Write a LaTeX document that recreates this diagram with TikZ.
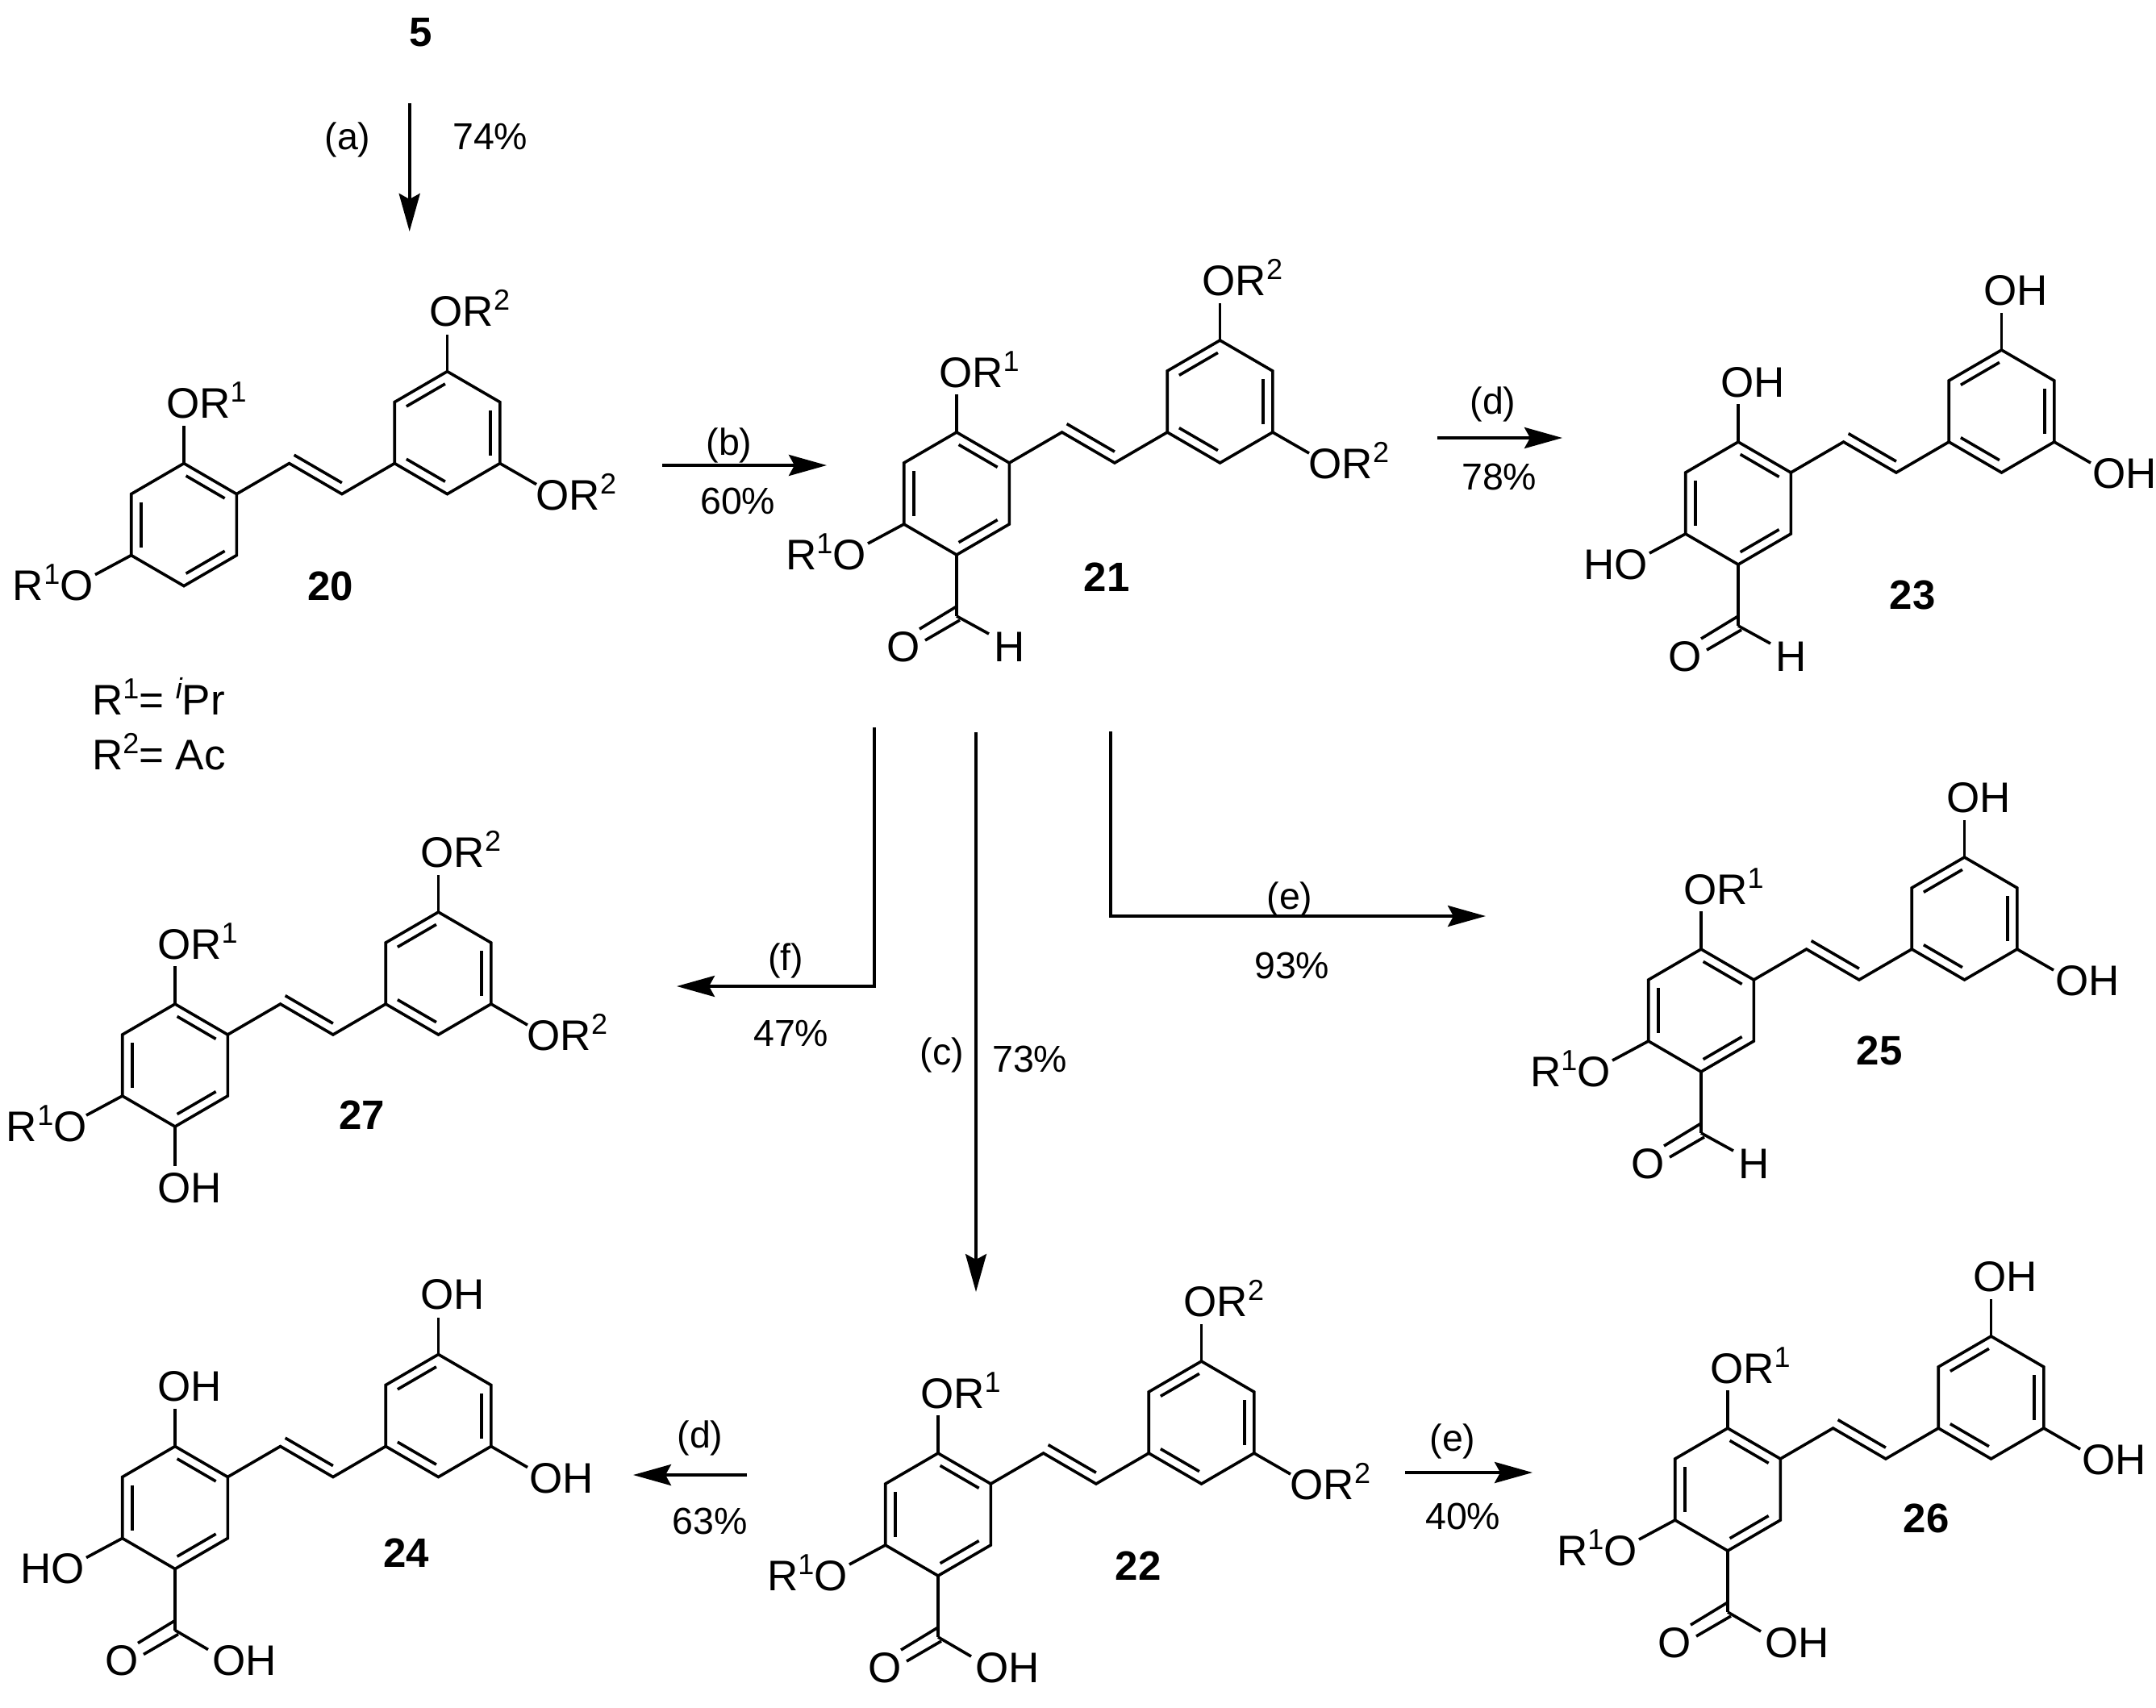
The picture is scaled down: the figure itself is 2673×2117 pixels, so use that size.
\documentclass[tikz,border=0pt]{standalone}
\usepackage{fontspec}
\setmainfont{Liberation Sans}
\usetikzlibrary{arrows.meta,calc}
\newcommand\sR[1]{\raisebox{20pt}{\fontsize{36}{36}\selectfont #1}}
\newcommand\ORa{OR\sR{1}}
\newcommand\ORb{OR\sR{2}}
\newcommand\Roa{R\sR{1}O}
\newcommand\innerb[4]{\draw[bond] ($(#1)!#3!(#2)!12pt!90:(#2)$) -- ($(#2)!#4!(#1)!12pt!-90:(#1)$);}
\newcommand\stil[1]{%
  \coordinate (#1a1) at (0,0); \coordinate (#1a2) at (65.3,38);
  \coordinate (#1a3) at (65.3,114); \coordinate (#1a4) at (0,152);
  \coordinate (#1a5) at (-65.3,114); \coordinate (#1a6) at (-65.3,38);
  \coordinate (#1v1) at (130.6,0); \coordinate (#1v2) at (195.9,38);
  \coordinate (#1b1) at (261.2,0); \coordinate (#1b2) at (326.5,38);
  \coordinate (#1b3) at (391.8,0); \coordinate (#1b4) at (391.8,-76);
  \coordinate (#1b5) at (326.5,-114); \coordinate (#1b6) at (261.2,-76);
  \draw[bond] (#1a1)--(#1a2)--(#1a3)--(#1a4)--(#1a5)--(#1a6)--cycle;
  \draw[bond] (#1b1)--(#1b2)--(#1b3)--(#1b4)--(#1b5)--(#1b6)--cycle;
  \draw[bond] (#1a2)--(#1v1)--(#1v2)--(#1b1);
  \innerb{#1a2}{#1a1}{10pt}{10pt}
  \innerb{#1a6}{#1a5}{10pt}{10pt}
  \innerb{#1a4}{#1a3}{10pt}{10pt}
  \innerb{#1b5}{#1b6}{10pt}{10pt}
  \innerb{#1b1}{#1b2}{10pt}{10pt}
  \innerb{#1b3}{#1b4}{10pt}{10pt}
  \innerb{#1v1}{#1v2}{0pt}{7pt}
}
\newcommand\subTop[3]{% prefix, label A top, label B top
  \coordinate (#1ta) at (0,-47); \coordinate (#1tb) at (326.5,-160);
  \draw[bond] (#1a1)--(#1ta); \draw[bond] (#1b5)--(#1tb);
  \node[chem] (#1la) at (-22,-56) {#2};
  \node[chem] (#1lb) at (304.5,-170) {#3};
}
\newcommand\subR[3]{\coordinate (#1tr) at (437,26); \draw[bond] (#1b3)--(#1tr);
  \node[chem] (#1lr) at (#3,57.5) {#2};}
\newcommand\subL[3]{\coordinate (#1tl) at (-110,138); \draw[bond] (#1a5)--(#1tl);
  \node[chem] (#1ll) at (#3,170) {#2};}
\newcommand\subCO[1]{%
  \coordinate (#1c) at (0,228);
  \coordinate (#1ca1) at (0,216); \coordinate (#1ca2) at (-46,244);
  \coordinate (#1cb1) at (4,233); \coordinate (#1cb2) at (-39,258);
  \draw[bond] (#1a4)--(#1c);
  \draw[bond] (#1ca1)--(#1ca2); \draw[bond] (#1cb1)--(#1cb2);
  \node[chem] (#1lo) at (-87,284) {O};
}
\newcommand\subCHO[1]{\subCO{#1}\coordinate (#1ch) at (40,250);
  \draw[bond] (#1c)--(#1ch); \node[chem] (#1lh) at (46,284) {H};}
\newcommand\subCOOH[1]{\subCO{#1}\coordinate (#1ch) at (41,252);
  \draw[bond] (#1c)--(#1ch); \node[chem] (#1lh) at (46.5,284) {OH};}
\tikzset{
  bond/.style={line width=3.6pt,line join=miter,line cap=butt},
  chem/.style={anchor=base west,inner sep=0pt,outer sep=0pt,font=\fontsize{53}{53}\selectfont},
  cpd/.style={anchor=base,inner sep=0pt,font=\fontsize{51}{51}\selectfont\bfseries},
  rlab/.style={anchor=base,inner sep=0pt,font=\fontsize{46.5}{46.5}\selectfont},
  rarr/.style={line width=4pt,-{Stealth[length=47pt,width=26pt,inset=7pt]}},
}
\begin{document}
\begin{tikzpicture}[x=1pt,y=-1pt]
\useasboundingbox (0,0) rectangle (2673,2117);
% 20
\begin{scope}[shift={(228,574.6)}]
  \stil{A}\subTop{A}{\ORa}{\ORb}\subR{A}{\ORb}{436.5}\subL{A}{\Roa}{-212}
\end{scope}
% 21
\begin{scope}[shift={(1186,536)}]
  \stil{B}\subTop{B}{\ORa}{\ORb}\subR{B}{\ORb}{436.5}\subL{B}{\Roa}{-212}\subCHO{B}
\end{scope}
% 23
\begin{scope}[shift={(2155,548)}]
  \stil{C}\subTop{C}{OH}{OH}\subR{C}{OH}{439.5}\subL{C}{HO}{-192}\subCHO{C}
\end{scope}
% 27
\begin{scope}[shift={(217,1245)}]
  \stil{D}\subTop{D}{\ORa}{\ORb}\subR{D}{\ORb}{436.5}\subL{D}{\Roa}{-209}
  \coordinate (Dto) at (0,201); \draw[bond] (Da4)--(Dto);
  \node[chem] (Dlo) at (-22,246) {OH};
\end{scope}
% 25
\begin{scope}[shift={(2109,1177)}]
  \stil{E}\subTop{E}{\ORa}{OH}\subR{E}{OH}{439.5}\subL{E}{\Roa}{-212}\subCHO{E}
\end{scope}
% 24
\begin{scope}[shift={(217,1793.5)}]
  \stil{F}\subTop{F}{OH}{OH}\subR{F}{OH}{439.5}\subL{F}{HO}{-192}\subCOOH{F}
\end{scope}
% 22
\begin{scope}[shift={(1163,1802)}]
  \stil{G}\subTop{G}{\ORa}{\ORb}\subR{G}{\ORb}{436.5}\subL{G}{\Roa}{-212}\subCOOH{G}
\end{scope}
% 26
\begin{scope}[shift={(2142,1771)}]
  \stil{H}\subTop{H}{\ORa}{OH}\subR{H}{OH}{439.5}\subL{H}{\Roa}{-212}\subCOOH{H}
\end{scope}
% compound numbers
\node[cpd] (n5) at (522,58) {5};
\node[cpd] (n20) at (410,744) {20};
\node[cpd] (n21) at (1372,733) {21};
\node[cpd] (n23) at (2371,755) {23};
\node[cpd] (n27) at (449,1400) {27};
\node[cpd] (n25) at (2330,1320) {25};
\node[cpd] (n24) at (504,1943) {24};
\node[cpd] (n22) at (1411,1959) {22};
\node[cpd] (n26) at (2388,1900) {26};
% R definitions
\node[chem] (defa) at (114,886) {R\sR{1}= \sR{\itshape i}Pr};
\node[chem] (defb) at (114,954) {R\sR{2}= Ac};
% arrow end points
\coordinate (as) at (507.7,128); \coordinate (ae) at (507.7,287);
\coordinate (bs) at (821,577); \coordinate (be) at (1025,577);
\coordinate (ds) at (1782,543); \coordinate (de) at (1937,543);
\coordinate (fs) at (1084,902); \coordinate (fc) at (1084,1223); \coordinate (fe) at (839,1223);
\coordinate (cs) at (1210,908); \coordinate (ce) at (1210,1602);
\coordinate (es) at (1377,907); \coordinate (ec) at (1377,1136); \coordinate (ee) at (1842,1136);
\coordinate (gs) at (926,1829); \coordinate (ge) at (785,1829);
\coordinate (hs) at (1742,1826); \coordinate (he) at (1900,1826);
% arrows
\draw[rarr] (as)--(ae);
\draw[rarr] (bs)--(be);
\draw[rarr] (ds)--(de);
\draw[rarr,line join=miter] (fs)--(fc)--(fe);
\draw[rarr,line width=3.4pt] (cs)--(ce);
\draw[rarr,line join=miter] (es)--(ec)--(ee);
\draw[rarr] (gs)--(ge);
\draw[rarr] (hs)--(he);
% arrow labels
\node[rlab] (la) at (431,185) {(a)};
\node[rlab,anchor=base west] (ya) at (561,185) {74\%};
\node[rlab] (lb) at (904,564) {(b)};
\node[rlab,anchor=base west] (yb) at (868,637) {60\%};
\node[rlab] (ld) at (1851,513) {(d)};
\node[rlab,anchor=base west] (yd) at (1812,607) {78\%};
\node[rlab] (lf) at (974,1203) {(f)};
\node[rlab,anchor=base west] (yf) at (934,1297) {47\%};
\node[rlab] (lc) at (1168,1320) {(c)};
\node[rlab,anchor=base west] (yc) at (1230,1329) {73\%};
\node[rlab] (le) at (1599,1127) {(e)};
\node[rlab,anchor=base west] (ye) at (1555,1213) {93\%};
\node[rlab] (lg) at (868,1795) {(d)};
\node[rlab] (yg) at (880,1902) {63\%};
\node[rlab] (lh) at (1801,1799) {(e)};
\node[rlab,anchor=base west] (yh) at (1767,1896) {40\%};
\end{tikzpicture}
\end{document}
